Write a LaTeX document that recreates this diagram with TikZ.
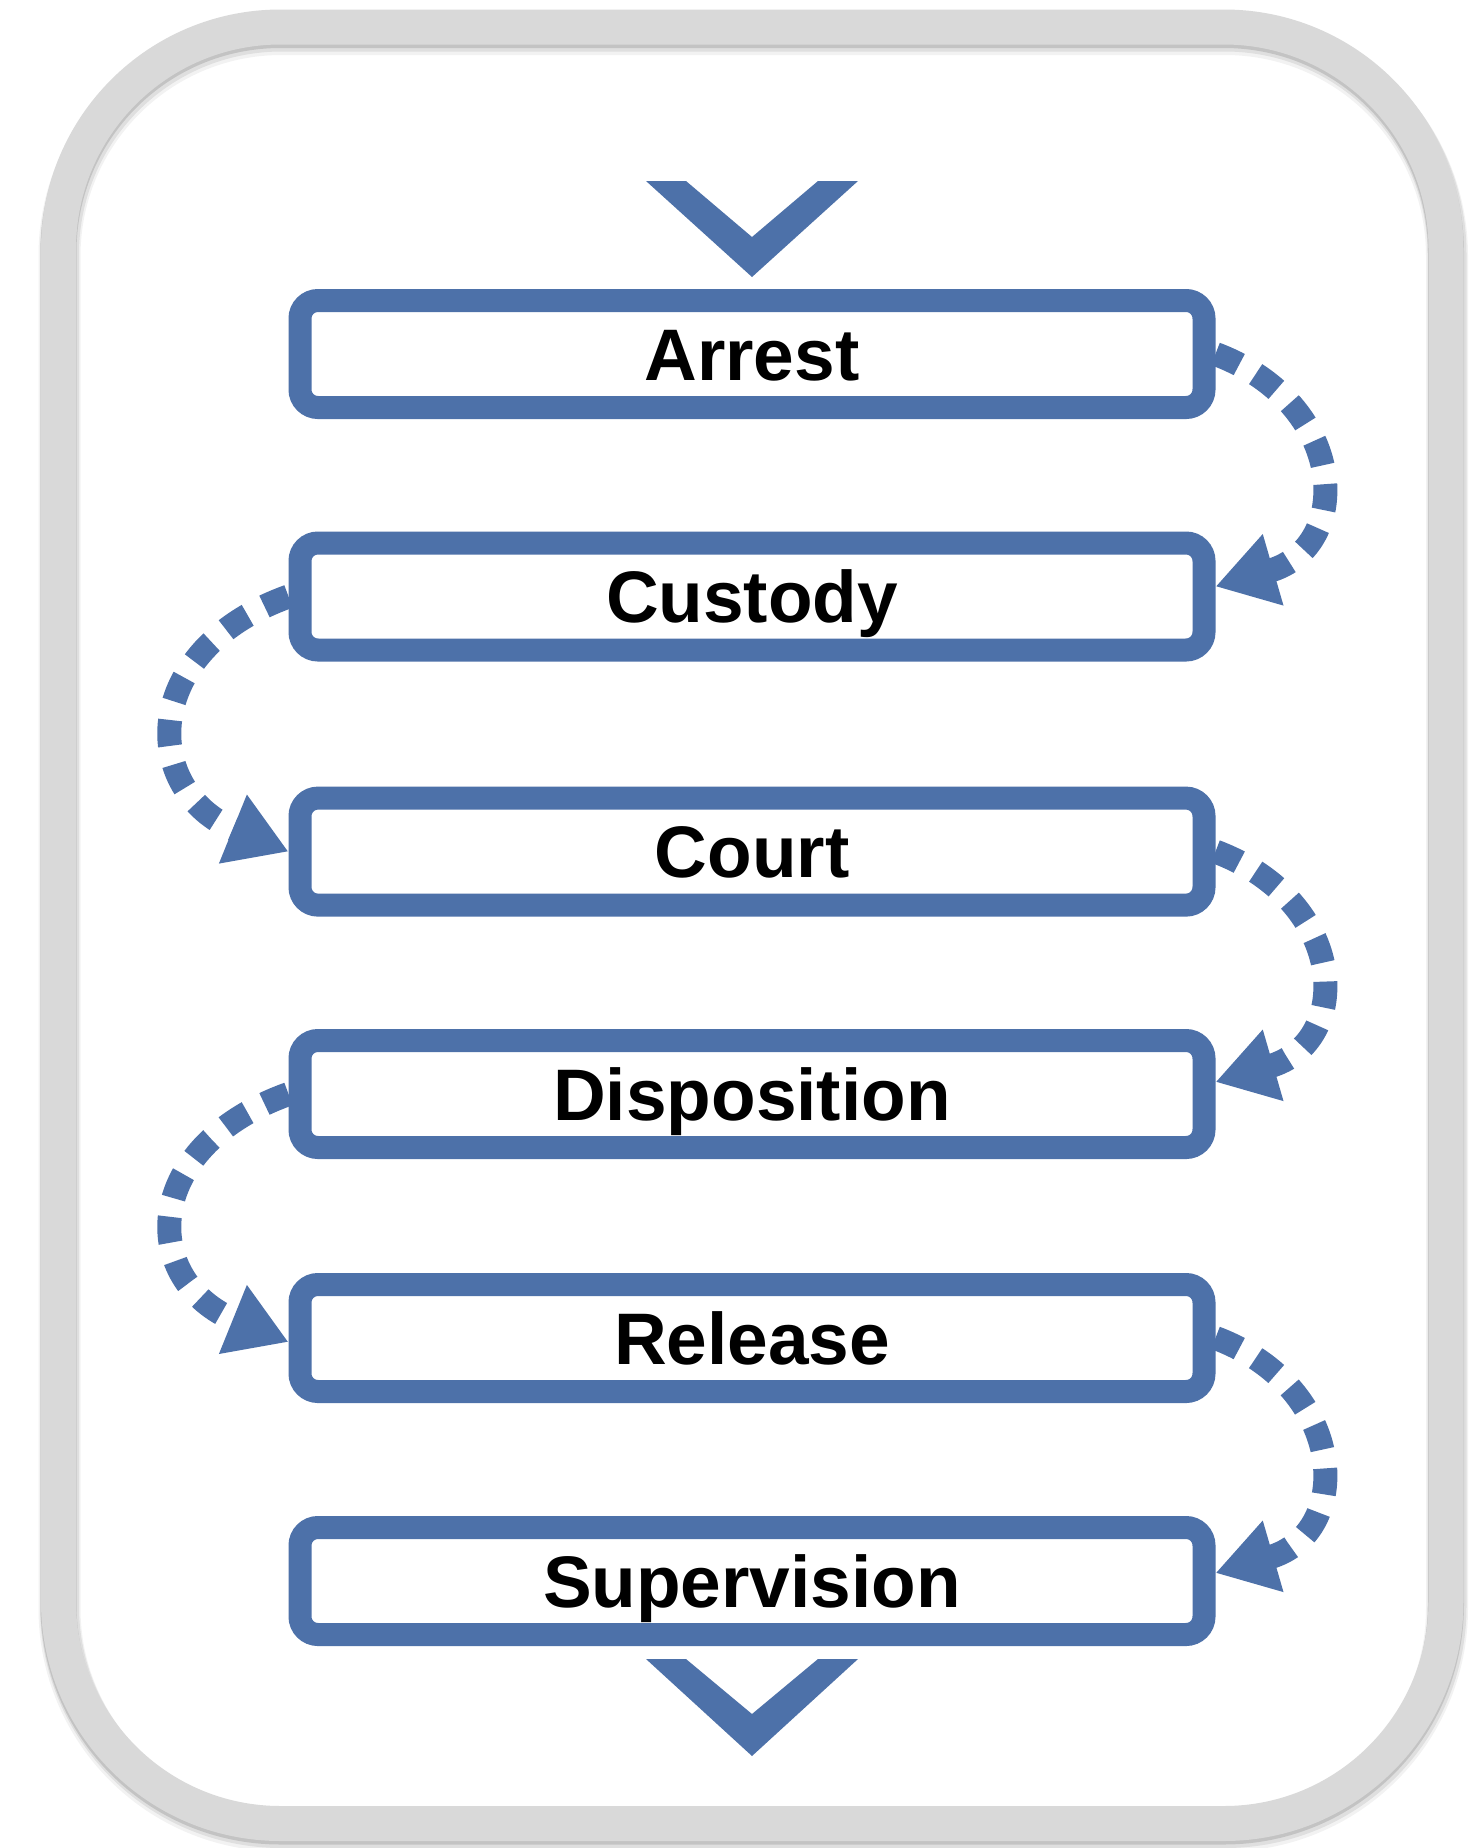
\documentclass[tikz,border=0pt]{standalone}
\usepackage{fontspec}
\setmainfont{Liberation Sans}
\usetikzlibrary{arrows.meta}
\definecolor{boxblue}{RGB}{77,113,169}
\definecolor{framegray}{RGB}{217,217,217}
\begin{document}
\begin{tikzpicture}[x=0.5pt,y=-0.5pt,
  stagebox/.style={draw=boxblue, line width=11.5pt, rounded corners=9pt,
    minimum width=452pt, minimum height=53.5pt, inner sep=0pt, fill=white,
    font=\fontsize{36.5pt}{40pt}\selectfont\bfseries, text=black,
    text height=26.1pt, text depth=0pt},
  flowarrow/.style={draw=boxblue, line width=12pt, dash pattern=on 13pt off 9.5pt,
    -{Triangle[length=30pt,width=35pt]}},
  chevron/.style={fill=boxblue, draw=none},
  frameshadow/.style={draw=black, rounded corners=111pt},
  frameline/.style={draw=framegray, line width=17.5pt, rounded corners=111pt}]
\useasboundingbox (0,0) rectangle (1468,1848);
\fill[white] (0,0) rectangle (1468,1848);

% frame with soft shadow
\draw[frameshadow, opacity=0.05, line width=21pt, shift={(1,7)}] (58.5,27) rectangle (1446,1823.5);
\draw[frameshadow, opacity=0.08, line width=19.5pt, shift={(1,5)}] (58.5,27) rectangle (1446,1823.5);
\draw[frameshadow, opacity=0.12, line width=18pt, shift={(0,3)}] (58.5,27) rectangle (1446,1823.5);
\draw[frameline] (58.5,27) rectangle (1446,1823.5);

% chevrons
\fill[chevron] (646,181) -- (686,181) -- (752,237) -- (818,181) -- (858,181) -- (752,277) -- cycle;
\fill[chevron] (646,1659) -- (686,1659) -- (752,1714) -- (818,1659) -- (858,1659) -- (752,1756) -- cycle;

% stages
\node[stagebox] (arrest) at (752,354) {Arrest};
\node[stagebox] (custody) at (752,596.5) {Custody};
\node[stagebox] (court) at (752,851.6) {Court};
\node[stagebox] (disposition) at (752,1094) {Disposition};
\node[stagebox] (release) at (752,1338) {Release};
\node[stagebox] (supervision) at (752,1581) {Supervision};

% connectors
\draw[flowarrow] (arrest.east) .. controls +(133,50) and +(138,-40) .. ([yshift=5pt]custody.east);
\draw[flowarrow] (custody.west) .. controls +(-150,54) and +(-148,-60) .. (court.west);
\draw[flowarrow] (court.east) .. controls +(133,50) and +(138,-40) .. ([yshift=6pt]disposition.east);
\draw[flowarrow] (disposition.west) .. controls +(-150,54) and +(-148,-60) .. ([yshift=-2pt]release.west);
\draw[flowarrow] (release.east) .. controls +(133,50) and +(138,-40) .. ([yshift=4pt]supervision.east);
\end{tikzpicture}
\end{document}
